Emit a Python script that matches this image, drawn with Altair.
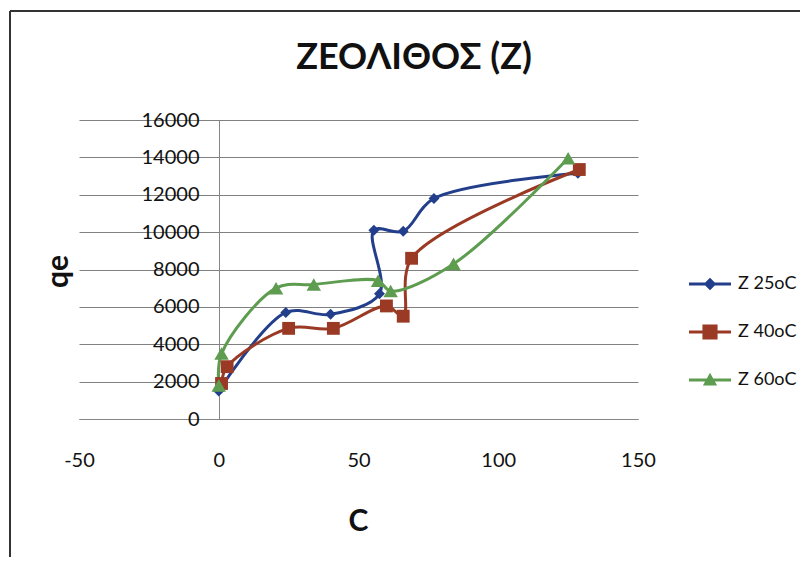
import altair as alt
import pandas as pd

# ---- data ----
title_text = "ΖΕΟΛΙΘΟΣ (Ζ)"
series_names = ["Z 25oC", "Z 40oC", "Z 60oC"]

c_25 = [0, 24, 40, 57.5, 55.5, 66, 77, 128.5]
q_25 = [1500, 5700, 5600, 6700, 10100, 10050, 11800, 13150]

c_40 = [1, 3, 25, 41, 60, 66, 69, 129]
q_40 = [1900, 2800, 4850, 4850, 6050, 5500, 8600, 13350]

c_60 = [0, 1, 20.5, 34, 57, 61.5, 84, 125]
q_60 = [1800, 3500, 7000, 7200, 7400, 6850, 8300, 13950]

x_ticks = [-50, 0, 50, 100, 150]
y_ticks = [0, 2000, 4000, 6000, 8000, 10000, 12000, 14000, 16000]

rows = []
for name, cs, qs in zip(series_names, [c_25, c_40, c_60], [q_25, q_40, q_60]):
    for i, (c, q) in enumerate(zip(cs, qs)):
        rows.append({"series": name, "C": c, "qe": q, "i": i})
df = pd.DataFrame(rows)

# ---- styling ----
colors = ["#233F8C", "#9A3A24", "#5E9D50"]
point_shapes = ["diamond", "square", "triangle-up"]
point_sizes = [120, 210, 170]
legend_shapes = [
    "M-1,-0.07L1,-0.07L1,0.07L-1,0.07Z M0,-0.3L0.3,0L0,0.3L-0.3,0Z",
    "M-1,-0.07L1,-0.07L1,0.07L-1,0.07Z M-0.36,-0.36L0.36,-0.36L0.36,0.36L-0.36,0.36Z",
    "M-1,-0.07L1,-0.07L1,0.07L-1,0.07Z M0,-0.34L0.34,0.26L-0.34,0.26Z",
]
FONT = "Lato"
W, H = 790, 546
FRAME = "#333333"

x_scale = alt.Scale(domain=[-50, 150], range=[69, 628], nice=False, zero=False)
y_scale = alt.Scale(domain=[0, 16000], range=[408, 109], nice=False)
color_scale = alt.Scale(domain=series_names, range=colors)

x_enc = alt.X(
    "C:Q", scale=x_scale,
    axis=alt.Axis(
        values=x_ticks, labelExpr="toString(datum.value)", labelFlush=False,
        grid=False, ticks=False, tickSize=0,
        offset=-(H - 408), labelPadding=31, labelFont=FONT, labelFontSize=20,
        labelColor="#111111", domainColor="#858585", domainWidth=1,
        title="C", titleFont=FONT, titleFontSize=30, titleFontWeight="bold",
        titleColor="#111111", titleX=348, titleY=111, titleAlign="center",
        titleBaseline="alphabetic",
    ),
)
y_enc = alt.Y(
    "qe:Q", scale=y_scale,
    axis=alt.Axis(
        values=y_ticks, labelExpr="toString(datum.value)", labelFlush=False,
        grid=True, gridColor="#808080", gridWidth=1,
        ticks=False, tickSize=0, offset=-209, labelPadding=20, labelFont=FONT,
        labelFontSize=20, labelColor="#111111", domainColor="#858585",
        domainWidth=1, title="qe", titleFont=FONT, titleFontSize=30,
        titleFontWeight="bold", titleColor="#111111", titleX=-152, titleY=260,
        titleAngle=-90, titleAlign="center", titleBaseline="alphabetic",
    ),
)

lines = alt.Chart(df).mark_line(interpolate="catmull-rom", strokeWidth=3).encode(
    x=x_enc, y=y_enc,
    color=alt.Color("series:N", scale=color_scale, legend=None),
    detail="series:N",
    order="i:Q",
)

points = alt.Chart(df).mark_point(filled=True, opacity=1, strokeWidth=0).encode(
    x=x_enc, y=y_enc,
    color=alt.Color("series:N", scale=color_scale, legend=None),
    shape=alt.Shape("series:N", scale=alt.Scale(domain=series_names, range=point_shapes), legend=None),
    size=alt.Size("series:N", scale=alt.Scale(domain=series_names, range=point_sizes), legend=None),
)

leg = dict(
    title=None, orient="none", legendX=679, legendY=252, padding=0,
    symbolSize=1764, symbolOpacity=1, symbolStrokeWidth=0,
    labelFont=FONT, labelFontSize=18, labelColor="#111111", labelOffset=7,
    rowPadding=18,
)
legend_layer = alt.Chart(df).mark_point(filled=True, opacity=0, size=1764, strokeWidth=0).encode(
    x=x_enc, y=y_enc,
    color=alt.Color("series:N", scale=color_scale, legend=alt.Legend(**leg)),
    shape=alt.Shape("series:N", scale=alt.Scale(domain=series_names, range=legend_shapes),
                    legend=alt.Legend(**leg)),
)

# chart-area frame (top and left edges; the others fall outside the picture)
frame_src = pd.DataFrame({"edge": [0]})
frame_top = alt.Chart(frame_src).mark_rule(color=FRAME, strokeWidth=2).encode(
    x=alt.value(0), x2=alt.value(W), y=alt.value(0)
)
frame_left = alt.Chart(frame_src).mark_rule(color=FRAME, strokeWidth=2).encode(
    x=alt.value(0), y=alt.value(0), y2=alt.value(H)
)

chart = (
    alt.layer(frame_top, frame_left, lines, points, legend_layer)
    .resolve_scale(color="independent", shape="independent")
    .properties(
        width=W, height=H,
        padding={"left": 1, "top": 2, "right": 0, "bottom": 0},
        title=alt.TitleParams(
            text=title_text, font=FONT, fontSize=36, fontWeight="bold",
            color="#111111", anchor="middle", offset=-67, dx=9,
        ),
        background="white",
    )
    .configure_view(stroke=None, fill="white")
)

chart.save("out.html", embed_options={"renderer": "svg", "actions": False})
